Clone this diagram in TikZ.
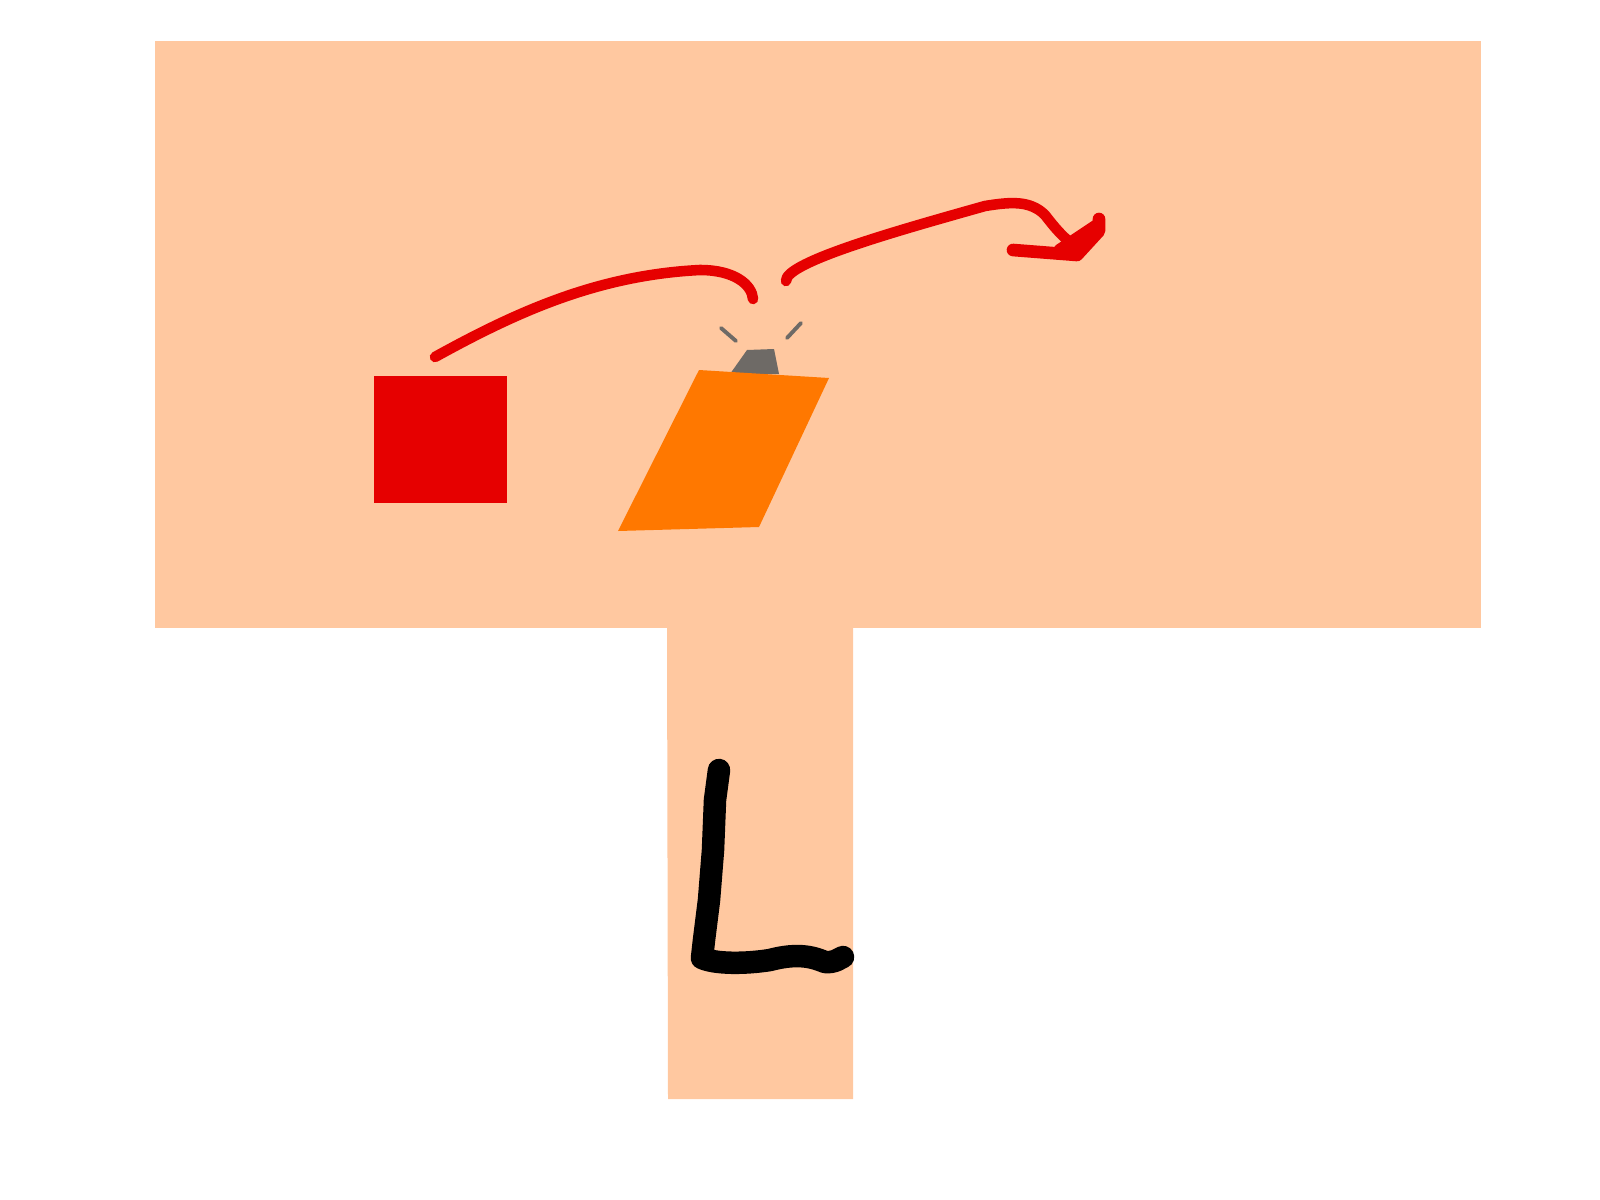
\documentclass[tikz,border=0pt]{standalone}
\usetikzlibrary{arrows.meta}
\definecolor{peach}{HTML}{FFC8A0}
\definecolor{signred}{HTML}{E60000}
\definecolor{signorange}{HTML}{FF7800}
\definecolor{lampgray}{HTML}{6E6A66}
\begin{document}
\begin{tikzpicture}[x=0.01cm,y=-0.01cm,board/.style={fill=peach,draw=none},redpen/.style={draw=signred,line width=3pt,line cap=round,line join=round},graypen/.style={draw=lampgray,line width=1.1pt,line cap=round},blackpen/.style={draw=black,line width=6.4pt,line cap=round,line join=round}]
\useasboundingbox (0,0) rectangle (1600,1200);
% sign board and post
\fill[board] (155,41) -- (1481,41) -- (1481,628) -- (155,628) -- cycle;
\fill[board] (667,626) -- (853,626) -- (853,1099) -- (668,1099) -- cycle;
% blocks
\fill[signred] (374,376) rectangle (507,503);
\fill[lampgray] (747,350) -- (774,349) -- (779,374) -- (730,374) -- cycle;
\fill[signorange] (699,370) -- (829,378) -- (759,527) -- (618,531) -- cycle;
% little rays
\draw[graypen] (721,328) -- (736,341);
\draw[graypen] (801,323) -- (787,338);
% jump arrows
\draw[redpen] (435,357) .. controls (520,310) and (600,275) .. (700,270) .. controls (735,270) and (752,285) .. (753,299);
\draw[redpen] (786,281) .. controls (785,262) and (900,230) .. (985,206) .. controls (1010,202) and (1030,200) .. (1045,215) .. controls (1055,228) and (1065,240) .. (1077,247);
\draw[redpen,line width=3.6pt] (1013,250) -- (1077,255) -- (1099,231) -- (1099,219);
\draw[redpen,line width=3.6pt] (1060,250) -- (1096,226);
% letter
\draw[blackpen] (719,770) -- (715,800) -- (713,850) -- (709,900) -- (704,940) -- (702,958) .. controls (715,964) and (745,964) .. (770,960) .. controls (800,952) and (815,958) .. (825,962) .. controls (835,963) and (840,958) .. (843,957);
\end{tikzpicture}
\end{document}
